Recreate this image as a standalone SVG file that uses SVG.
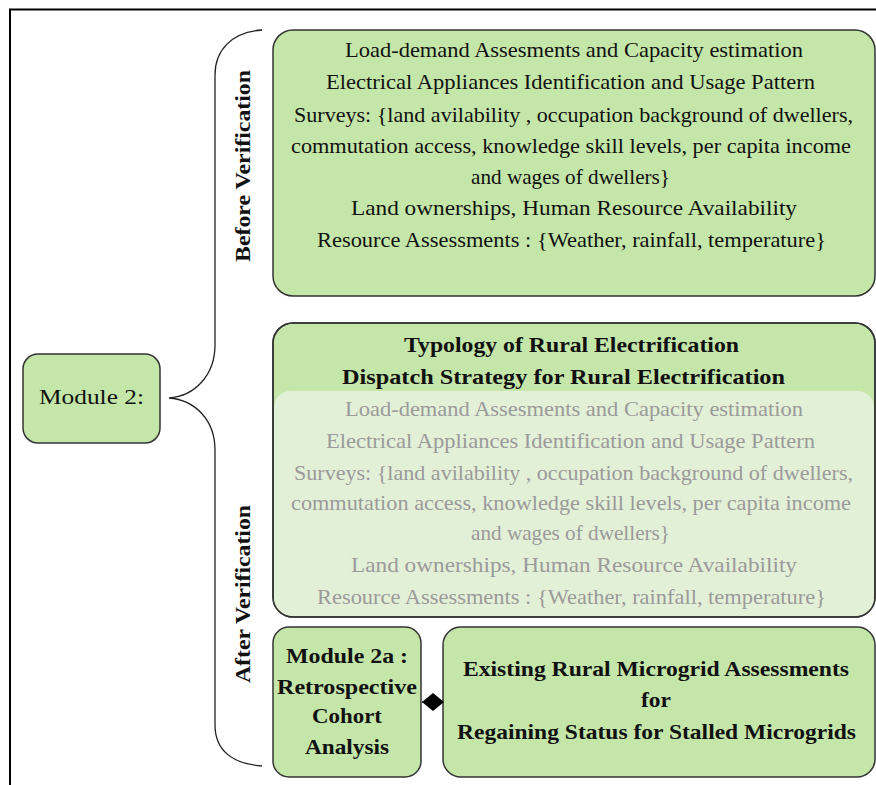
<svg xmlns="http://www.w3.org/2000/svg" width="876" height="785" viewBox="0 0 876 785">
<style>
.box{fill:#c5e6a9;stroke:#333;stroke-width:1.5}
.outline{fill:none;stroke:#333;stroke-width:1.5}
.t{font-family:"Liberation Serif","Times New Roman",serif;font-size:21px;fill:#111;text-anchor:middle}
.b{font-weight:bold}
.g{fill:#9a9a9a}
.conn{fill:none;stroke:#222;stroke-width:1.3}
</style>
<defs>
<marker id="dia" markerWidth="22" markerHeight="18" refX="0" refY="9" orient="auto" markerUnits="userSpaceOnUse">
<path d="M0,9 L11,0 L22,9 L11,18 Z" fill="#000"/>
</marker>
</defs>
<rect width="876" height="785" fill="#fff"/>
<path d="M10,785 L10,9.5 L876,9.5" fill="none" stroke="#000" stroke-width="2"/>

<g id="brace" class="conn">
<path d="M262,30 C232,32 215,50 215,75 L215,345 C215,375 195,396 169,398 C195,400 215,420 215,450 L215,725 C215,750 232,764 262,766"/>
</g>

<g id="module2">
<rect class="box" x="23" y="354" width="137" height="89" rx="15"/>
<text class="t" x="91.5" y="404" textLength="105" lengthAdjust="spacingAndGlyphs">Module 2:</text>
</g>

<g id="label-before">
<text class="t b" transform="translate(250,166) rotate(-90)" textLength="192" lengthAdjust="spacingAndGlyphs">Before Verification</text>
</g>
<g id="label-after">
<text class="t b" transform="translate(250,594) rotate(-90)" textLength="178" lengthAdjust="spacingAndGlyphs">After Verification</text>
</g>

<g id="before-box">
<rect class="box" x="273" y="30" width="602" height="266" rx="20"/>
<text class="t" x="574" y="57" textLength="458" lengthAdjust="spacingAndGlyphs">Load-demand Assesments and Capacity estimation</text>
<text class="t" x="570.5" y="89" textLength="489" lengthAdjust="spacingAndGlyphs">Electrical Appliances Identification  and Usage Pattern</text>
<text class="t" x="573.5" y="122" textLength="559" lengthAdjust="spacingAndGlyphs">Surveys: {land avilability , occupation background of dwellers,</text>
<text class="t" x="571" y="153" textLength="560" lengthAdjust="spacingAndGlyphs">commutation access, knowledge skill levels, per capita income</text>
<text class="t" x="570.5" y="184" textLength="199" lengthAdjust="spacingAndGlyphs">and wages of dwellers}</text>
<text class="t" x="574" y="215" textLength="446" lengthAdjust="spacingAndGlyphs">Land ownerships,   Human Resource Availability</text>
<text class="t" x="571.5" y="247" textLength="509" lengthAdjust="spacingAndGlyphs">Resource  Assessments : {Weather, rainfall, temperature}</text>
</g>

<g id="after-box">
<rect class="box" x="273" y="323" width="602" height="294" rx="20"/>
<rect x="274" y="391" width="600" height="225" rx="16" fill="#e2f0d7"/>
<rect class="outline" x="273" y="323" width="602" height="294" rx="20"/>
<text class="t b" x="571.5" y="352" textLength="335" lengthAdjust="spacingAndGlyphs">Typology of Rural Electrification</text>
<text class="t b" x="563.5" y="384" textLength="443" lengthAdjust="spacingAndGlyphs">Dispatch Strategy for Rural Electrification</text>
<text class="t g" x="574" y="416" textLength="458" lengthAdjust="spacingAndGlyphs">Load-demand Assesments and Capacity estimation</text>
<text class="t g" x="570.5" y="448" textLength="489" lengthAdjust="spacingAndGlyphs">Electrical Appliances Identification  and Usage Pattern</text>
<text class="t g" x="573.5" y="480" textLength="559" lengthAdjust="spacingAndGlyphs">Surveys: {land avilability , occupation background of dwellers,</text>
<text class="t g" x="571" y="510" textLength="560" lengthAdjust="spacingAndGlyphs">commutation access, knowledge skill levels, per capita income</text>
<text class="t g" x="570.5" y="540" textLength="199" lengthAdjust="spacingAndGlyphs">and wages of dwellers}</text>
<text class="t g" x="574" y="572" textLength="446" lengthAdjust="spacingAndGlyphs">Land ownerships,   Human Resource Availability</text>
<text class="t g" x="571.5" y="604" textLength="509" lengthAdjust="spacingAndGlyphs">Resource  Assessments : {Weather, rainfall, temperature}</text>
</g>

<g id="module2a">
<rect class="box" x="273" y="627" width="148" height="150" rx="16"/>
<text class="t b" x="347" y="663" textLength="122" lengthAdjust="spacingAndGlyphs">Module 2a :</text>
<text class="t b" x="347" y="694" textLength="140" lengthAdjust="spacingAndGlyphs">Retrospective</text>
<text class="t b" x="347" y="723" textLength="70" lengthAdjust="spacingAndGlyphs">Cohort</text>
<text class="t b" x="347" y="754" textLength="84" lengthAdjust="spacingAndGlyphs">Analysis</text>
</g>

<g id="existing">
<rect class="box" x="443" y="627" width="432" height="150" rx="18"/>
<text class="t b" x="656" y="676" textLength="386" lengthAdjust="spacingAndGlyphs">Existing Rural Microgrid Assessments</text>
<text class="t b" x="656" y="707" textLength="30" lengthAdjust="spacingAndGlyphs">for</text>
<text class="t b" x="656.5" y="739" textLength="399" lengthAdjust="spacingAndGlyphs">Regaining Status for Stalled Microgrids</text>
</g>

<g id="connectors">
<path class="conn" d="M422,702 L443,702" marker-start="url(#dia)"/>
</g>
</svg>
